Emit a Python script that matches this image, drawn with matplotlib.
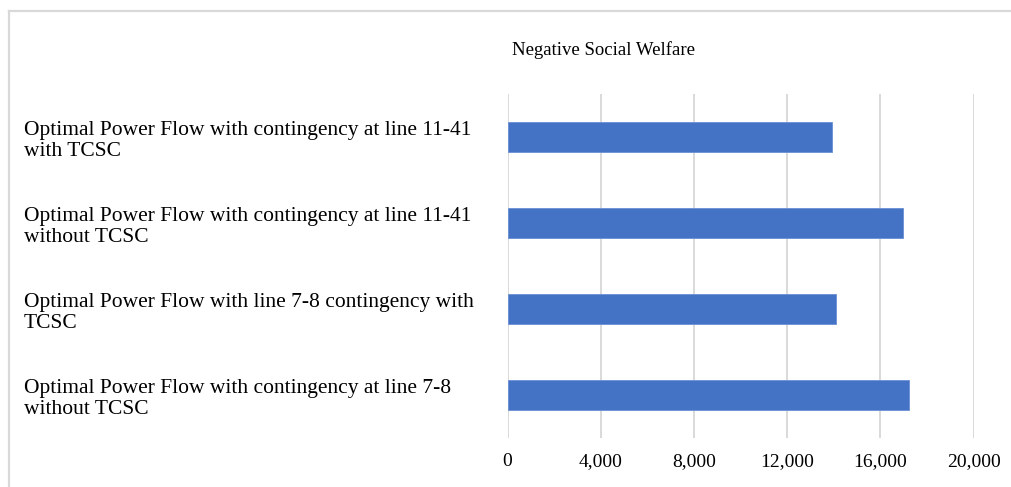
import matplotlib
matplotlib.use("Agg")
import matplotlib.pyplot as plt
from matplotlib.lines import Line2D
from matplotlib.transforms import ScaledTranslation

plt.rcParams["font.family"] = ["Liberation Serif", "DejaVu Serif"]

# Scenarios, listed bottom to top
categories = [
    "Optimal Power Flow with contingency at line 7-8\nwithout TCSC",
    "Optimal Power Flow with line 7-8 contingency with\nTCSC",
    "Optimal Power Flow with contingency at line 11-41\nwithout TCSC",
    "Optimal Power Flow with contingency at line 11-41\nwith TCSC",
]
welfare = [17250, 14100, 16960, 13920]
xticks = [0, 4000, 8000, 12000, 16000, 20000]
title = "Negative Social Welfare"

W, H = 1011, 487
fig = plt.figure(figsize=(W / 100, H / 100), dpi=100)
fig.patch.set_facecolor("white")

# chart frame
border = "#d9d9d9"
fig.add_artist(Line2D([9 / W, 9 / W], [0, 1 - 10.5 / H], transform=fig.transFigure,
                      color=border, lw=1.6))
fig.add_artist(Line2D([9 / W, 1], [1 - 10.5 / H, 1 - 10.5 / H], transform=fig.transFigure,
                      color=border, lw=1.6))

left, right = 507.5 / W, 973.5 / W
top, bottom = 1 - 94 / H, 1 - 438 / H
ax = fig.add_axes([left, bottom, right - left, top - bottom])

y = list(range(len(categories)))
ax.barh(y, welfare, height=0.35, color="#4472C4", edgecolor="#6a8fd3", linewidth=0.6, zorder=3)

ax.set_xlim(0, 20000)
ax.set_ylim(-0.5, len(categories) - 0.5)
ax.set_xticks(xticks)
ax.set_xticklabels([f"{v:,}" for v in xticks], fontsize=14)
ax.grid(axis="x", color="#d9d9d9", linewidth=1.4, zorder=0)
ax.grid(axis="y", visible=False)
for s in ax.spines.values():
    s.set_visible(False)

# value labels sit a little to the left of their gridlines
shift = ScaledTranslation(-4 / 100, 0, fig.dpi_scale_trans)
for lbl in ax.get_xticklabels():
    lbl.set_transform(lbl.get_transform() + shift)

ax.set_yticks(y)
ax.set_yticklabels(categories, fontsize=15.5, linespacing=1.15)
ax.tick_params(axis="both", length=0)
ax.tick_params(axis="x", pad=11)
ax.tick_params(axis="y", pad=(507.5 - 24) * 0.72)
for lbl in ax.get_yticklabels():
    lbl.set_horizontalalignment("left")

fig.text(604 / W, 1 - 50 / H, title, ha="center", va="center", fontsize=13.5)

fig.savefig("out.png", dpi=100, facecolor="white")
